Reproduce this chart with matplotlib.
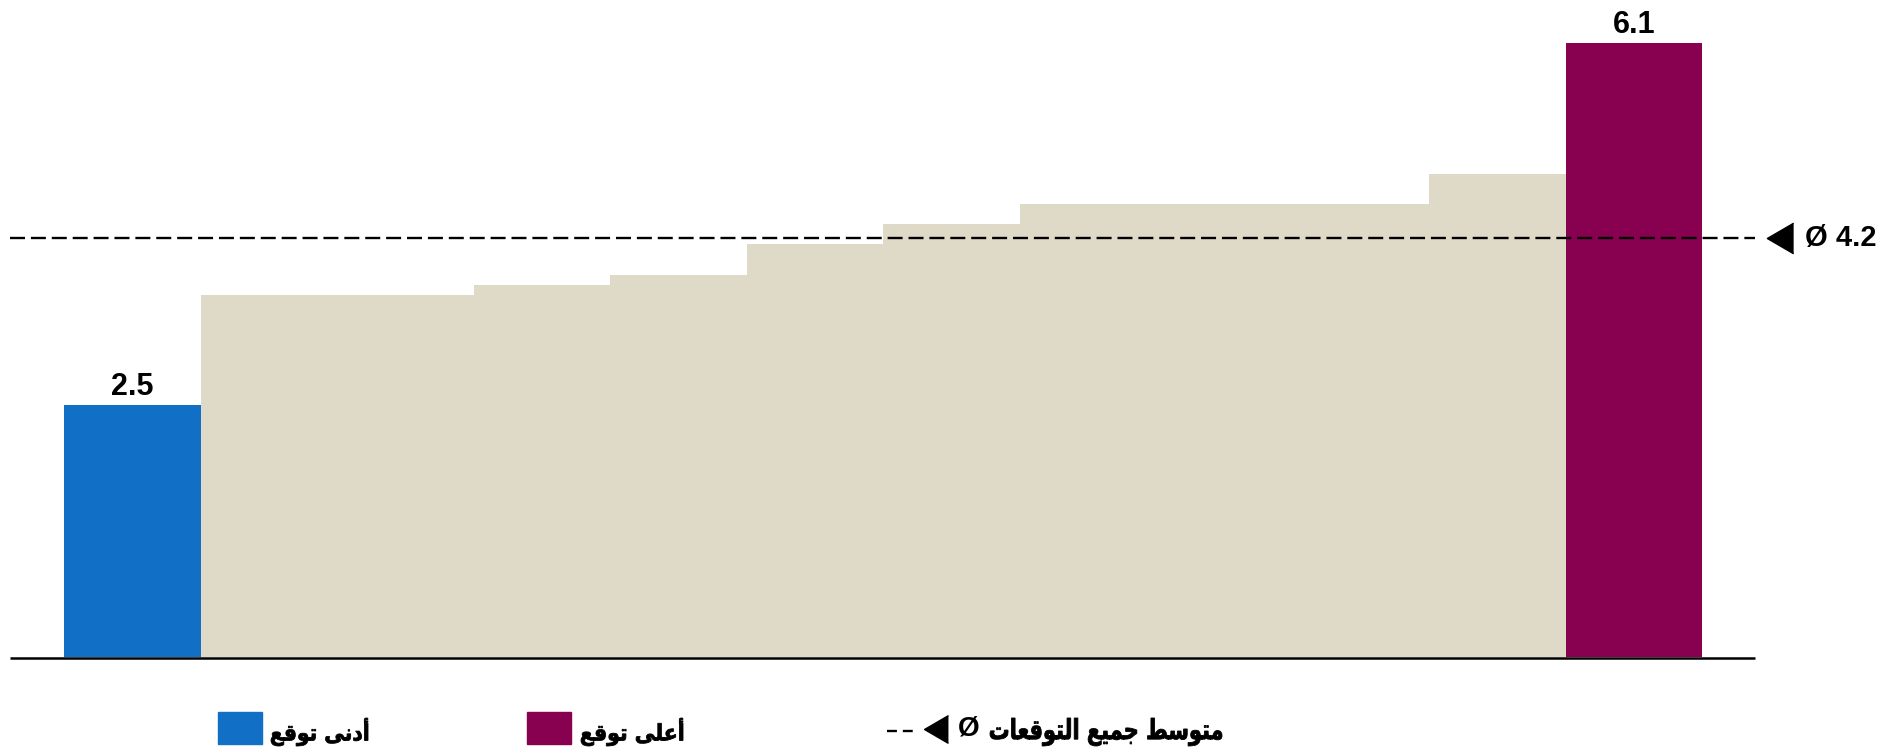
import matplotlib
matplotlib.use("Agg")
import matplotlib.pyplot as plt
from matplotlib.lines import Line2D
from matplotlib.patches import Rectangle, PathPatch
from matplotlib.textpath import TextPath
from matplotlib.font_manager import FontProperties
from matplotlib.transforms import Affine2D

plt.rcParams["font.family"] = ["Liberation Sans", "DejaVu Sans"]
plt.rcParams["font.weight"] = "bold"

# forecasts, sorted from lowest to highest
values = [2.5, 3.6, 3.6, 3.7, 3.8, 4.1, 4.3, 4.5, 4.5, 4.5, 4.8, 6.1]
low_label = "أدنى توقع"
high_label = "أعلى توقع"
mean_label = "متوسط جميع التوقعات"

BLUE = "#1170c5"
BEIGE = "#dfd9c7"
PURPLE = "#880050"

# Arabic presentation forms (isolated, final, initial, medial)
FORMS = {
    "ا": ("\ufe8d", "\ufe8e", None, None),
    "أ": ("\ufe83", "\ufe84", None, None),
    "د": ("\ufea9", "\ufeaa", None, None),
    "و": ("\ufeed", "\ufeee", None, None),
    "ى": ("\ufeef", "\ufef0", None, None),
    "ت": ("\ufe95", "\ufe96", "\ufe97", "\ufe98"),
    "ن": ("\ufee5", "\ufee6", "\ufee7", "\ufee8"),
    "ق": ("\ufed5", "\ufed6", "\ufed7", "\ufed8"),
    "ع": ("\ufec9", "\ufeca", "\ufecb", "\ufecc"),
    "ل": ("\ufedd", "\ufede", "\ufedf", "\ufee0"),
    "م": ("\ufee1", "\ufee2", "\ufee3", "\ufee4"),
    "س": ("\ufeb1", "\ufeb2", "\ufeb3", "\ufeb4"),
    "ط": ("\ufec1", "\ufec2", "\ufec3", "\ufec4"),
    "ج": ("\ufe9d", "\ufe9e", "\ufe9f", "\ufea0"),
    "ي": ("\ufef1", "\ufef2", "\ufef3", "\ufef4"),
}


def shape(text):
    # join letters and flip to visual order, matplotlib has no bidi support
    out = []
    for i, ch in enumerate(text):
        if ch not in FORMS:
            out.append(ch)
            continue
        prev = text[i - 1] if i > 0 else ""
        nxt = text[i + 1] if i + 1 < len(text) else ""
        iso, fin, ini, med = FORMS[ch]
        joins_prev = prev in FORMS and FORMS[prev][2] is not None
        joins_next = ini is not None and nxt in FORMS
        if joins_prev and joins_next:
            out.append(med)
        elif joins_prev:
            out.append(fin)
        elif joins_next:
            out.append(ini)
        else:
            out.append(iso)
    return "".join(reversed(out))


W, H = 1897, 748
fig = plt.figure(figsize=(W / 100, H / 100), dpi=100)
ax = fig.add_axes([10 / W, 91 / H, 1745 / W, 657 / H])

arabic_font = FontProperties(family="DejaVu Sans", weight="bold")


def arabic_text(left, top, width, height, s):
    # condensed Arabic label drawn as a path, box given in pixels from top-left
    tp = TextPath((0, 0), shape(s), size=40, prop=arabic_font)
    ext = tp.get_extents()
    sx = width / ext.width
    sy = height / ext.height
    tr = Affine2D().translate(-ext.x0, -ext.y0).scale(sx, sy).translate(left, H - top - height)
    fig.patches.append(PathPatch(tp, transform=tr, facecolor="black",
                                 edgecolor="black", lw=0.6, figure=fig))


x = list(range(len(values)))
colors = [BLUE] + [BEIGE] * (len(values) - 2) + [PURPLE]
ax.bar(x, values, width=1.0, color=colors, linewidth=0, zorder=1)
ax.set_xlim(-0.896, 11.888)
ax.set_ylim(0, 6.53)

for s in ["top", "left", "right"]:
    ax.spines[s].set_visible(False)
ax.spines["bottom"].set_visible(False)
ax.set_xticks([])
ax.set_yticks([])

# baseline sits just under the bars
ax.plot([0, 1], [-0.012, -0.012], color="black", lw=1.8, solid_capstyle="butt",
        transform=ax.get_yaxis_transform(), clip_on=False, zorder=3)

# value labels on the lowest and highest forecast
for i in [0, len(values) - 1]:
    ax.annotate(f"{values[i]:.1f}", (x[i], values[i]), xytext=(0, 7.5),
                textcoords="offset points", ha="center", va="baseline",
                fontsize=22, fontweight="bold")

# average of all forecasts
mean = sum(values) / len(values)
ax.axhline(mean, color="black", lw=1.7, dashes=(6.35, 2.5), zorder=2, clip_on=False)
tri = [(0.86, 1), (-0.86, 0), (0.86, -1)]
ax.plot([1.0143], [mean], marker=tri, ms=22, color="black", clip_on=False,
        transform=ax.get_yaxis_transform())
ax.text(1.0286, mean, f"Ø {mean:.1f}", transform=ax.get_yaxis_transform(),
        ha="left", va="center", fontsize=21, fontweight="bold")


# legend along the bottom
def fx(px):
    return px / W


def fy(px):
    return (H - px) / H


fig.patches.append(Rectangle((fx(218), fy(744)), 44 / W, 32 / H, color=BLUE,
                             transform=fig.transFigure, figure=fig))
arabic_text(271, 718, 97, 28, low_label)
fig.patches.append(Rectangle((fx(527), fy(744)), 44 / W, 32 / H, color=PURPLE,
                             transform=fig.transFigure, figure=fig))
arabic_text(581, 718, 102, 28, high_label)

fig.lines.append(Line2D([fx(887), fx(913)], [fy(731), fy(731)], color="black",
                        lw=1.7, dashes=(4.2, 2.5), transform=fig.transFigure))
fig.lines.append(Line2D([fx(936)], [fy(729)], marker=tri, ms=20, color="black",
                        transform=fig.transFigure))
fig.text(fx(958), fy(729), "Ø", ha="left", va="center", fontsize=20,
         fontweight="bold")
arabic_text(990, 718, 232, 28, mean_label)

fig.savefig("out.png", dpi=100)
